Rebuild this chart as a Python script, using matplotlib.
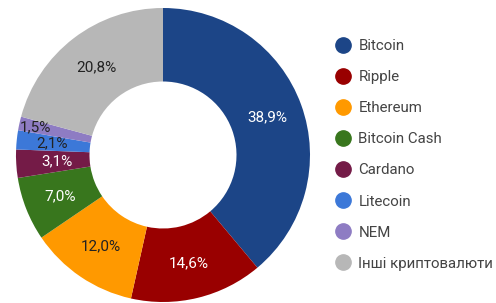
import matplotlib
matplotlib.use('Agg')
import matplotlib.pyplot as plt
import numpy as np
from matplotlib.lines import Line2D

plt.rcParams['font.family'] = ['Roboto', 'DejaVu Sans']

names = ['Bitcoin', 'Ripple', 'Ethereum', 'Bitcoin Cash', 'Cardano',
         'Litecoin', 'NEM', 'Інші криптовалюти']
shares = [38.9, 14.6, 12.0, 7.0, 3.1, 2.1, 1.5, 20.8]
colors = ['#1c4587', '#990000', '#ff9900', '#38761d', '#741b47',
          '#3c78d8', '#8e7cc3', '#b7b7b7']
text_colors = ['white', 'white', '#222222', 'white', 'white',
               '#222222', '#222222', '#222222']
# how far out each percentage label sits (fraction of outer radius)
label_r = [0.755, 0.755, 0.755, 0.755, 0.72, 0.76, 0.89, 0.75]

fig = plt.figure(figsize=(4.96, 3.03), dpi=100)
cx, cy, r = 163, 155, 147
ax = fig.add_axes([(cx - r) / 496, (303 - cy - r) / 303, 2 * r / 496, 2 * r / 303])

wedges, _ = ax.pie(shares, colors=colors, startangle=90, counterclock=False,
                   radius=1.0, wedgeprops=dict(width=0.5, linewidth=0))
ax.set_xlim(-1, 1)
ax.set_ylim(-1, 1)
ax.set_aspect('equal')
ax.axis('off')

for w, s, tc, rr in zip(wedges, shares, text_colors, label_r):
    ang = np.deg2rad((w.theta1 + w.theta2) / 2)
    ax.text(rr * np.cos(ang), rr * np.sin(ang), ('%.1f%%' % s).replace('.', ','),
            ha='center', va='center', fontsize=11, color=tc)

handles = [Line2D([], [], marker='o', linestyle='', markersize=11,
                  markerfacecolor=c, markeredgecolor=c) for c in colors]
fig.legend(handles, names, loc='upper left', bbox_to_anchor=(334 / 496, 1 - 39 / 303),
           frameon=False, fontsize=10.8, labelcolor='#444444', labelspacing=1.14,
           handletextpad=0.42, handlelength=1.2, borderaxespad=0, borderpad=0)

fig.savefig('out.png', dpi=100)
